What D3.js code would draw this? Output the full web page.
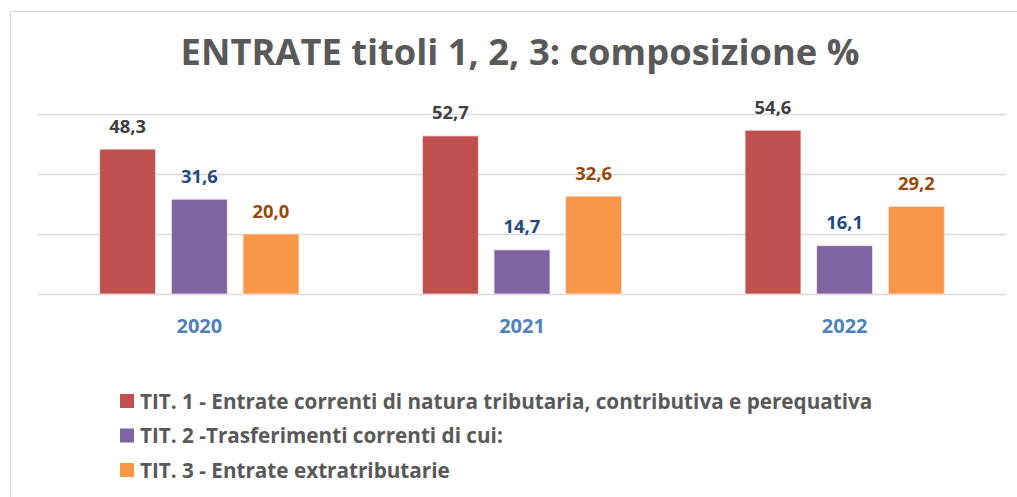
<!DOCTYPE html>
<html>
<head>
<meta charset="utf-8">
<script src="https://cdn.jsdelivr.net/npm/d3@7"></script>
<style>
  body { margin: 0; background: #fff; }
  svg { display: block; font-family: "Open Sans", Lato, sans-serif; }
</style>
</head>
<body>
<div id="chart"></div>
<script>
const years = ["2020", "2021", "2022"];
const seriesNames = [
  "TIT. 1 - Entrate correnti di natura tributaria, contributiva e perequativa",
  "TIT. 2 -Trasferimenti correnti di cui:",
  "TIT. 3 - Entrate extratributarie"
];
const tit1 = [48.3, 52.7, 54.6];
const tit2 = [31.6, 14.7, 16.1];
const tit3 = [20.0, 32.6, 29.2];
const gridTicks = [0, 20, 40, 60];

const W = 1017, H = 497;
const barColors = ["#C0504D", "#8064A2", "#F79646"];
const labelColors = ["#404040", "#1F497D", "#984807"];

const series = seriesNames.map((name, i) => ({ name, values: [tit1, tit2, tit3][i] }));

const svg = d3.select("#chart").append("svg")
  .attr("width", W).attr("height", H)
  .attr("viewBox", `0 0 ${W} ${H}`);

// chart frame
svg.append("path")
  .attr("d", `M10.5,${H} L10.5,11.5 L${W},11.5`)
  .attr("fill", "none").attr("stroke", "#d9d9d9").attr("stroke-width", 1);

svg.append("text")
  .attr("x", 520).attr("y", 65)
  .attr("text-anchor", "middle")
  .attr("font-size", "36.3px").attr("font-weight", "bold")
  .attr("fill", "#595959")
  .text("ENTRATE titoli 1, 2, 3: composizione %");

const x0 = d3.scaleBand().domain(years).range([38, 1006]).padding(0);
const x1 = d3.scaleBand().domain(d3.range(3)).range([x0.bandwidth() / 2 - 107.5, x0.bandwidth() / 2 + 107.5]).paddingInner(0.22).paddingOuter(0.11);
const y = d3.scaleLinear().domain([0, 60]).range([294, 114]);

svg.append("g").selectAll("line").data(gridTicks).join("line")
  .attr("x1", 38).attr("x2", 1006)
  .attr("y1", d => Math.round(y(d)) + 0.5).attr("y2", d => Math.round(y(d)) + 0.5)
  .attr("stroke", "#d9d9d9").attr("stroke-width", 1.3);

const groups = svg.append("g").selectAll("g").data(years).join("g")
  .attr("transform", d => `translate(${x0(d)},0)`);

groups.selectAll("rect").data((d, yi) => series.map((s, si) => ({ si, v: s.values[yi] })))
  .join("rect")
  .attr("x", d => x1(d.si))
  .attr("y", d => y(d.v))
  .attr("width", x1.bandwidth())
  .attr("height", d => y(0) - y(d.v))
  .attr("fill", d => barColors[d.si])
  .attr("stroke", "#f4e4e4").attr("stroke-width", 0.8);

groups.selectAll("text.val").data((d, yi) => series.map((s, si) => ({ si, v: s.values[yi] })))
  .join("text")
  .attr("class", "val")
  .attr("x", d => x1(d.si) + x1.bandwidth() / 2)
  .attr("y", d => y(d.v) - 16.5)
  .attr("text-anchor", "middle")
  .attr("font-size", "18.4px").attr("font-weight", "bold")
  .attr("fill", d => labelColors[d.si])
  .text(d => d3.format(".1f")(d.v).replace(".", ","));

svg.append("g").selectAll("text").data(years).join("text")
  .attr("x", d => x0(d) + x0.bandwidth() / 2)
  .attr("y", 333)
  .attr("text-anchor", "middle")
  .attr("font-size", "20px").attr("font-weight", "bold")
  .attr("fill", "#4F81BD")
  .text(d => d);

const legend = svg.append("g").selectAll("g").data(series).join("g")
  .attr("transform", (d, i) => `translate(120,${394 + i * 34.5})`);
legend.append("rect").attr("width", 14).attr("height", 14)
  .attr("fill", (d, i) => barColors[i]);
legend.append("text")
  .attr("x", 20).attr("y", 14.5)
  .attr("font-size", "20.7px").attr("font-weight", "bold")
  .attr("fill", "#595959")
  .text(d => d.name);
</script>
</body>
</html>
